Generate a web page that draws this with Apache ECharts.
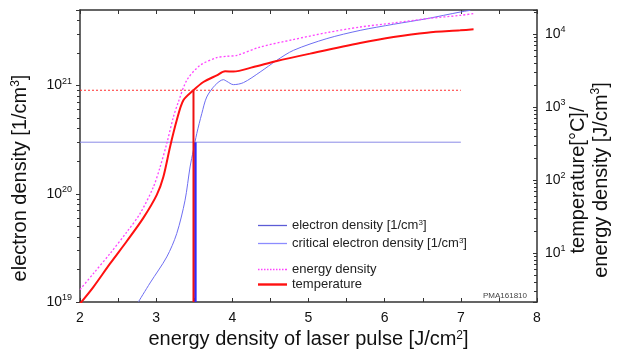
<!DOCTYPE html>
<html>
<head>
<meta charset="utf-8">
<script src="https://cdn.jsdelivr.net/npm/echarts@6/dist/echarts.min.js"></script>
<style>html,body{margin:0;padding:0;background:#fff;}#c{width:629px;height:364px;}</style>
</head>
<body>
<div id="c"></div>
<script>
// ---- data ----
var elecX = [2.766, 2.920, 3.139, 3.270, 3.379, 3.445, 3.488, 3.533, 3.599, 3.664, 3.773, 3.882, 3.927, 4.014, 4.146, 4.365, 4.584, 4.803, 5.241, 5.678, 6.116, 6.555, 6.992, 7.124];
var elecY = [1.0e19, 1.5e19, 2.61e19, 4.29e19, 8.71e19, 1.77e20, 2.52e20, 3.6e20, 5.51e20, 7.85e20, 1.007e21, 1.135e21, 1.096e21, 1.021e21, 1.066e21, 1.336e21, 1.714e21, 2.12e21, 2.72e21, 3.24e21, 3.69e21, 4.16e21, 4.79e21, 4.96e21];
var energyX = [2.0, 2.175, 2.394, 2.614, 2.788, 2.963, 3.051, 3.139, 3.226, 3.291, 3.402, 3.576, 3.796, 3.927, 4.059, 4.365, 4.798, 5.241, 5.678, 6.112, 6.555, 6.992, 7.167];
var energyY = [3.18, 5.26, 9.9, 19.5, 34.9, 80.5, 151, 318, 735, 1180, 2340, 3750, 4785, 4990, 5145, 6685, 8450, 10525, 12570, 14260, 16380, 18150, 19170];
var tempX = [2.0, 2.175, 2.394, 2.614, 2.832, 3.008, 3.094, 3.182, 3.27, 3.357, 3.488, 3.62, 3.796, 3.905, 4.014, 4.277, 4.584, 5.022, 5.678, 6.116, 6.555, 6.992, 7.167];
var tempY = [2.04, 3.44, 7.2, 14.6, 30.5, 63, 111, 286, 662, 1245, 1707, 2217, 2737, 3107, 3078, 3558, 4300, 5430, 7585, 9165, 10525, 11320, 11685];
var criticalX = [2, 7];
var criticalY = [3e20, 3e20];
var critVertX = [3.515, 3.515];
var critVertY = [1e19, 3e20];
var tempLevelX = [2, 7];
var tempLevelY = [1710, 1710];
var tempVertX = [3.49, 3.49];
var tempVertY = [2.15, 1710];
var leftMin = 1e19, leftMax = 5e21;
var rightMin = 2.15, rightMax = 21500;
var names = {
  elec: 'electron density [1/cm3]',
  crit: 'critical electron density [1/cm3]',
  energy: 'energy density',
  temp: 'temperature'
};

function zip(a, b) { return a.map(function (v, i) { return [v, b[i]]; }); }

var FONT = 'Liberation Sans, Arial, sans-serif';
var AX = '#333333';
function supLabel(v) {
  var e = Math.round(Math.log10(v));
  return '{b|10}{s|' + e + '}';
}
var labelRich = {
  b: { fontSize: 14, fontFamily: FONT, color: '#111', lineHeight: 18 },
  s: { fontSize: 9, fontFamily: FONT, color: '#111', verticalAlign: 'top', lineHeight: 10 }
};
function legendFmt(n) {
  return n.replace('cm3]', 'cm{s|3}]');
}
// legend icon shapes
var iconThin = 'path://M0,0h29v1.3h-29z';
var iconThick = 'path://M0,0h29v2.4h-29z';
var iconDots = (function () {
  var p = 'path://';
  for (var i = 0; i < 29; i += 3) { p += 'M' + i + ',0h1.5v1.5h-1.5z'; }
  p += 'M28.5,0h0.5v1.5h-0.5z';
  return p;
})();

var chart = echarts.init(document.getElementById('c'), null, { renderer: 'canvas' });
var option = {
  animation: false,
  backgroundColor: '#fff',
  grid: { left: 80, right: 92, top: 10, bottom: 62, containLabel: false },
  legend: [
    {
      data: [{ name: names.elec, icon: iconThin }, { name: names.crit, icon: iconThin }],
      orient: 'vertical', left: 258, top: 219, padding: 0,
      itemWidth: 29, itemHeight: 14, itemGap: 5,
      formatter: legendFmt,
      textStyle: { fontFamily: FONT, fontSize: 13, color: '#222',
        rich: { s: { fontSize: 8, verticalAlign: 'top', lineHeight: 9, fontFamily: FONT, color: '#222' } } }
    },
    {
      data: [{ name: names.energy, icon: iconDots }, { name: names.temp, icon: iconThick }],
      orient: 'vertical', left: 258, top: 263, padding: 0,
      itemWidth: 29, itemHeight: 14, itemGap: 2,
      textStyle: { fontFamily: FONT, fontSize: 13, color: '#222' }
    }
  ],
  xAxis: [
    {
      type: 'value', min: 2, max: 8, interval: 1, position: 'bottom',
      axisLine: { lineStyle: { color: AX, width: 1.5 } },
      axisTick: { inside: true, length: 4, lineStyle: { color: AX } },
      minorTick: { show: true, splitNumber: 2, length: 4, lineStyle: { color: AX } },
      splitLine: { show: false },
      axisLabel: { fontFamily: FONT, fontSize: 14, color: '#111', margin: 9 },
      name: 'energy density of laser pulse [J/cm{s|2}]',
      nameLocation: 'middle', nameGap: 24,
      nameTextStyle: { fontFamily: FONT, fontSize: 20, color: '#111',
        rich: { s: { fontFamily: FONT, fontSize: 12, verticalAlign: 'top', lineHeight: 12, color: '#111' } } }
    },
    {
      type: 'value', min: 2, max: 8, interval: 1, position: 'top',
      axisLine: { lineStyle: { color: AX, width: 1.5 } },
      axisTick: { inside: true, length: 4, lineStyle: { color: AX } },
      minorTick: { show: true, splitNumber: 2, length: 4, lineStyle: { color: AX } },
      splitLine: { show: false },
      axisLabel: { show: false }
    }
  ],
  yAxis: [
    {
      type: 'log', logBase: 10, min: leftMin, max: leftMax, position: 'left',
      axisLine: { lineStyle: { color: AX, width: 1.5 } },
      axisTick: { inside: false, length: 4, lineStyle: { color: AX } },
      minorTick: { show: true, splitNumber: 9, length: 3, lineStyle: { color: AX } },
      splitLine: { show: false },
      axisLabel: { formatter: supLabel, rich: labelRich, margin: 8, showMaxLabel: false }
    },
    {
      type: 'log', logBase: 10, min: rightMin, max: rightMax, position: 'right',
      axisLine: { lineStyle: { color: AX, width: 1.5 } },
      axisTick: { inside: true, length: 4, lineStyle: { color: AX } },
      minorTick: { show: true, splitNumber: 9, length: 3, lineStyle: { color: AX } },
      splitLine: { show: false },
      axisLabel: { formatter: supLabel, rich: labelRich, margin: 8, showMaxLabel: false, showMinLabel: false }
    }
  ],
  graphic: [
    {
      type: 'text', x: 20, y: 178, rotation: Math.PI / 2,
      style: { text: 'electron density [1/cm{s|3}]', font: '20px ' + FONT, fill: '#111',
        align: 'center', verticalAlign: 'middle',
        rich: { s: { fontSize: 12, fontFamily: FONT, verticalAlign: 'top', lineHeight: 12, fill: '#111' } } }
    },
    {
      type: 'text', x: 590, y: 180, rotation: Math.PI / 2,
      style: { text: 'temperature[°C]/\nenergy density [J/cm{s|3}]', font: '20px ' + FONT, fill: '#111',
        align: 'center', verticalAlign: 'middle', lineHeight: 23,
        rich: { s: { fontSize: 12, fontFamily: FONT, verticalAlign: 'top', lineHeight: 12, fill: '#111' } } }
    },
    {
      type: 'text', x: 527, y: 296,
      style: { text: 'PMA161810', font: '8px ' + FONT, fill: '#444', align: 'right', verticalAlign: 'middle' }
    }
  ],
  series: [
    {
      name: names.elec, type: 'line', xAxisIndex: 0, yAxisIndex: 0, data: zip(elecX, elecY),
      smooth: 0.3, symbol: 'none', color: '#5c5cd6',
      lineStyle: { width: 1, color: '#6e6ef2' }
    },
    {
      name: names.crit, type: 'line', xAxisIndex: 0, yAxisIndex: 0, data: zip(criticalX, criticalY),
      symbol: 'none', color: '#8c8cff',
      lineStyle: { width: 1, color: '#8a8ae6' }
    },
    {
      name: 'critVert', type: 'line', xAxisIndex: 0, yAxisIndex: 0, data: zip(critVertX, critVertY),
      symbol: 'none', lineStyle: { width: 2.5, color: '#2b2bff' }, z: 4
    },
    {
      name: names.energy, type: 'line', xAxisIndex: 0, yAxisIndex: 1, data: zip(energyX, energyY),
      smooth: 0.3, symbol: 'none', color: '#ff44ff',
      lineStyle: { width: 1.3, color: '#ff44ff', type: [2, 2] }
    },
    {
      name: names.temp, type: 'line', xAxisIndex: 0, yAxisIndex: 1, data: zip(tempX, tempY),
      smooth: 0.3, symbol: 'none', color: '#ff1010',
      lineStyle: { width: 2, color: '#ff1010' }, z: 3
    },
    {
      name: 'tempLevel', type: 'line', xAxisIndex: 0, yAxisIndex: 1, data: zip(tempLevelX, tempLevelY),
      symbol: 'none', lineStyle: { width: 1, color: '#ff3030', type: [2, 2] }
    },
    {
      name: 'tempVert', type: 'line', xAxisIndex: 0, yAxisIndex: 1, data: zip(tempVertX, tempVertY),
      symbol: 'none', lineStyle: { width: 2, color: '#ee1111' }, z: 4
    }
  ]
};
chart.setOption(option);
</script>
</body>
</html>
